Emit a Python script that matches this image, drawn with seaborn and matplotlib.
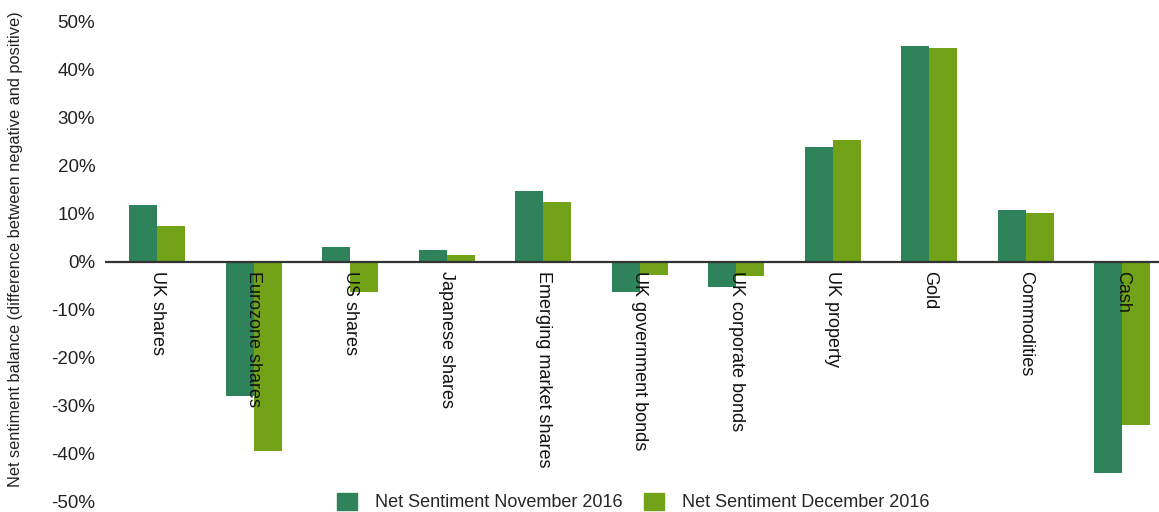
import matplotlib.pyplot as plt
from matplotlib.ticker import FuncFormatter
import seaborn as sns
import pandas as pd

categories = ['UK shares', 'Eurozone shares', 'US shares', 'Japanese shares',
              'Emerging market shares', 'UK government bonds', 'UK corporate bonds',
              'UK property', 'Gold', 'Commodities', 'Cash']
nov_2016 = [11.7, -28.0, 3.1, 2.3, 14.8, -6.4, -5.3, 23.8, 45.0, 10.7, -44.2]
dec_2016 = [7.4, -39.6, -6.4, 1.4, 12.5, -2.9, -3.1, 25.3, 44.6, 10.1, -34.2]
series = ['Net Sentiment November 2016', 'Net Sentiment December 2016']
colors = ['#2e835a', '#72a218']

df = pd.DataFrame({
    'category': categories * 2,
    'value': nov_2016 + dec_2016,
    'series': [series[0]] * len(categories) + [series[1]] * len(categories),
})

sns.set_style('white')
plt.rcParams['font.family'] = ['Liberation Sans', 'DejaVu Sans']

fig = plt.figure(figsize=(11.59, 5.12), dpi=100)
ax = fig.add_axes([105 / 1159, 11 / 512, 1 - 105 / 1159, 479 / 512])

sns.barplot(data=df, x='category', y='value', hue='series', palette=colors,
            width=0.58, saturation=1, linewidth=0, legend=False, ax=ax)

ax.axhline(0, color='#333333', linewidth=1.6, zorder=5)
ax.set_ylim(-50, 50)
ax.set_xlim(-0.54, 10.38)
ax.set_yticks(range(-50, 51, 10))
ax.yaxis.set_major_formatter(FuncFormatter(lambda v, p: f'{v:.0f}%'))
ax.tick_params(axis='y', labelsize=13.5, length=0, pad=7, labelcolor='#222222')
ax.set_xticks([])
ax.set_xlabel('')
ax.set_ylabel('Net sentiment balance (difference between negative and positive)',
              fontsize=11.8, color='#222222')
ax.yaxis.set_label_coords(-0.078, 0.525)
for s in ax.spines.values():
    s.set_visible(False)

# category names hang below the zero line
for i, name in enumerate(categories):
    ax.text(i, -2, name, rotation=270, ha='center', va='top',
            fontsize=13, color='#111111', zorder=6)

handles = [plt.Rectangle((0, 0), 1, 1, color=c) for c in colors]
fig.legend(handles, series, loc='center', bbox_to_anchor=(633 / 1159, 1 - 502 / 512),
           ncol=2, frameon=False, fontsize=13, handlelength=1.1, handleheight=1.1,
           columnspacing=1.2, handletextpad=1.0)

plt.savefig('out.png', dpi=100)
plt.close()
